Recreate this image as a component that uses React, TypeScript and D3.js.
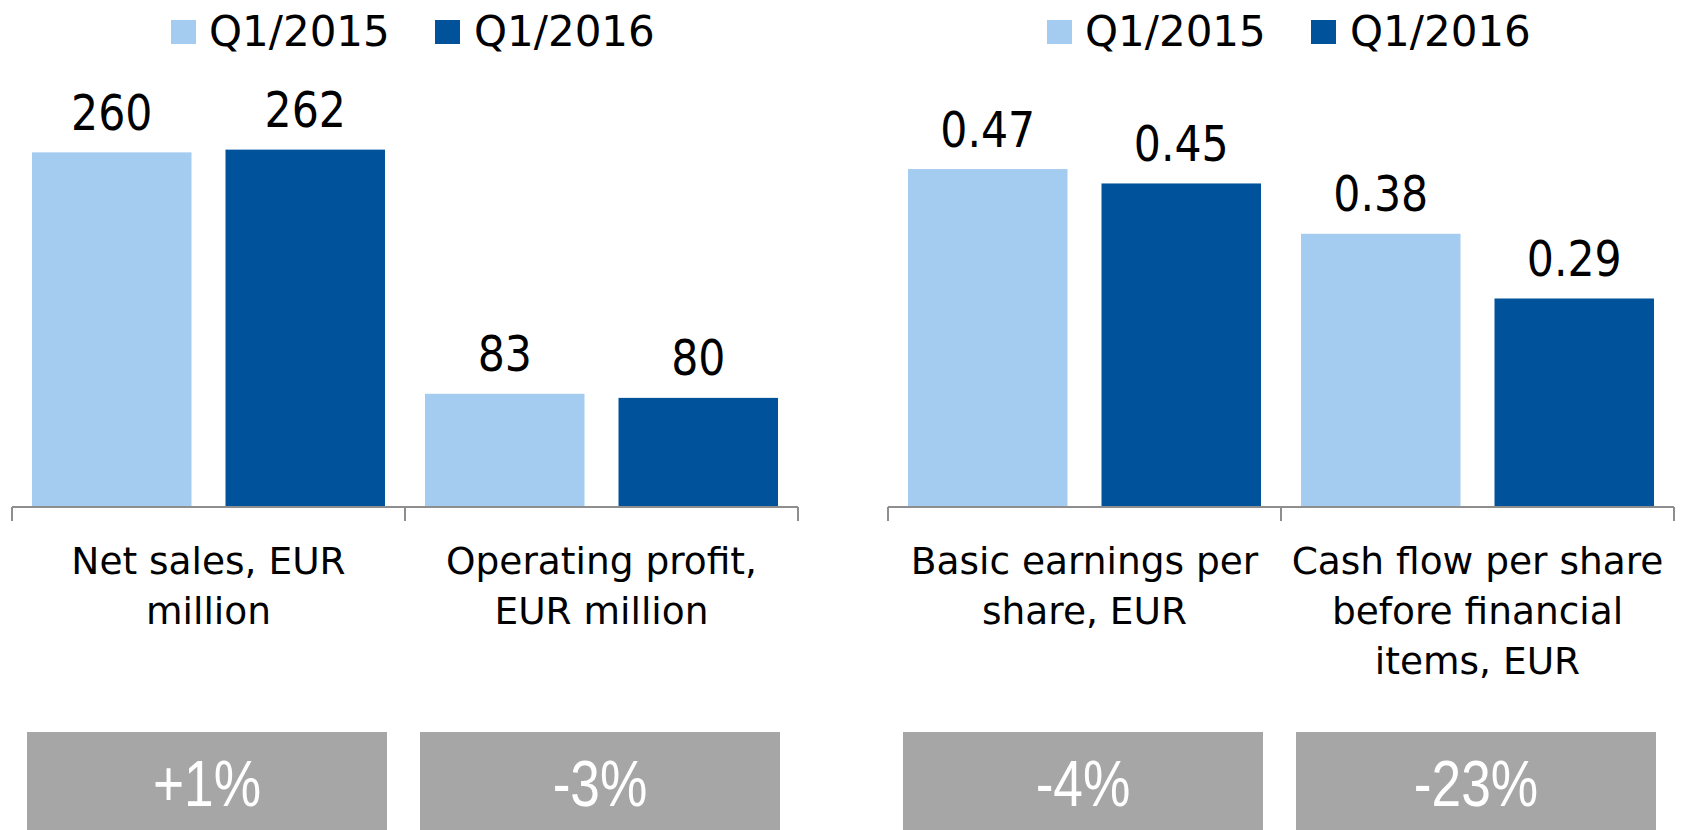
import React from "react";
import * as d3 from "d3";

const series = ["Q1/2015", "Q1/2016"];
const leftCategories = [["Net sales, EUR", "million"], ["Operating profit,", "EUR million"]];
const leftQ1_2015 = [260, 83];
const leftQ1_2016 = [262, 80];
const leftChanges = ["+1%", "-3%"];

const rightCategories = [["Basic earnings per", "share, EUR"], ["Cash flow per share", "before financial", "items, EUR"]];
const rightQ1_2015 = [0.47, 0.38];
const rightQ1_2016 = [0.45, 0.29];
const rightChanges = ["-4%", "-23%"];

const COLORS = ["#A4CCF0", "#00539B"];
const W = 1681;
const H = 830;
const BASE = 507;
const PANEL_W = 786;

type PanelProps = {
  x0: number;
  cats: string[][];
  a: number[];
  b: number[];
  changes: string[];
  yMax: number;
  yTop: number;
  fmt: (v: number) => string;
};

function Panel({ x0, cats, a, b, changes, yMax, yTop, fmt }: PanelProps) {
  const keys = cats.map((c) => c.join(" "));
  const x = d3.scaleBand<string>().domain(keys).range([0, PANEL_W]).padding(0);
  const xs = d3
    .scaleBand<string>()
    .domain(series)
    .range([0, x.bandwidth()])
    .paddingInner(0.1757)
    .paddingOuter(0.1034);
  const y = d3.scaleLinear().domain([0, yMax]).range([BASE, yTop]);
  const vals = [a, b];
  const font = "'DejaVu Sans', Verdana, sans-serif";
  return (
    <g transform={`translate(${x0},0)`}>
      {/* legend */}
      {series.map((s, i) => (
        <g key={s}>
          <rect x={159 + i * 264} y={20} width={25} height={24} fill={COLORS[i]} />
          <text x={197 + i * 265} y={46} fontFamily={font} fontSize={42} fill="#000">
            {s}
          </text>
        </g>
      ))}
      {keys.map((k, ci) => (
        <g key={k} transform={`translate(${x(k)},0)`}>
          {series.map((s, si) => {
            const v = vals[si][ci];
            const bx = xs(s)!;
            const bw = xs.bandwidth();
            return (
              <g key={s}>
                <rect x={bx} y={y(v)} width={bw} height={BASE - y(v)} fill={COLORS[si]} />
                <text
                  transform={`translate(${bx + bw / 2},${y(v) - 22.5}) scale(0.87,1)`}
                  textAnchor="middle"
                  fontFamily={font}
                  fontSize={49}
                  fill="#000"
                >
                  {fmt(v)}
                </text>
              </g>
            );
          })}
          {cats[ci].map((line, li) => (
            <text
              key={li}
              x={x.bandwidth() / 2}
              y={574 + li * 50}
              textAnchor="middle"
              fontFamily={font}
              fontSize={37.5}
              fill="#000"
            >
              {line}
            </text>
          ))}
          <rect x={15} y={732} width={360} height={110} fill="#A6A6A6" />
          <text
            transform={`translate(${15 + 180},806) scale(0.82,1)`}
            textAnchor="middle"
            fontFamily="'Liberation Sans', Arial, sans-serif"
            fontSize={65}
            fill="#fff"
          >
            {changes[ci]}
          </text>
        </g>
      ))}
      {/* axis */}
      <line x1={0} x2={PANEL_W} y1={BASE} y2={BASE} stroke="#8E8E8E" strokeWidth={2} />
      {[0, ...keys.map((k) => x(k)! + x.bandwidth())].map((t, i) => (
        <line key={i} x1={t} x2={t} y1={BASE} y2={521} stroke="#8E8E8E" strokeWidth={2} />
      ))}
    </g>
  );
}

export default function App() {
  return (
    <svg
      width={W}
      height={H}
      style={{ position: "absolute", left: 0, top: 0, background: "#fff" }}
    >
      <rect width={W} height={H} fill="#fff" />
      <Panel
        x0={12}
        cats={leftCategories}
        a={leftQ1_2015}
        b={leftQ1_2016}
        changes={leftChanges}
        yMax={300}
        yTop={BASE - 300 * 1.364}
        fmt={(v) => d3.format("d")(v)}
      />
      <Panel
        x0={888}
        cats={rightCategories}
        a={rightQ1_2015}
        b={rightQ1_2016}
        changes={rightChanges}
        yMax={0.5}
        yTop={BASE - 0.5 * 719}
        fmt={(v) => d3.format(".2f")(v)}
      />
    </svg>
  );
}
